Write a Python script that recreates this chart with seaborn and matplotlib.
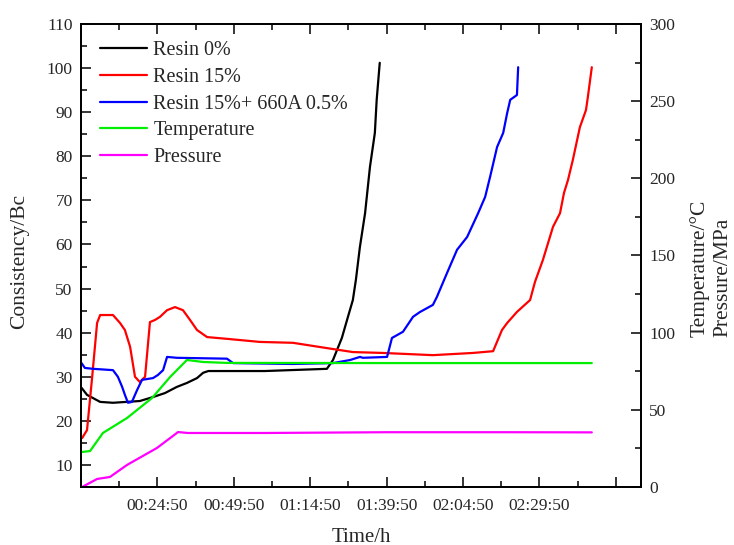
import numpy as np
import pandas as pd
import seaborn as sns
import matplotlib.pyplot as plt
from matplotlib.ticker import FixedLocator, MultipleLocator

# time in minutes, consistency in Bc
t_r0 = [0, 1.8, 6.1, 10.3, 19.1, 23.4, 27.3, 31.2, 34.5, 37.8, 39.8, 41.5, 60, 80.3,
        82.3, 85.2, 87.2, 88.8, 89.8, 91.1, 92.8, 94.4, 96.0, 96.6, 97.6]
bc_r0 = [27.5, 25.9, 24.3, 24.1, 24.5, 25.4, 26.3, 27.7, 28.6, 29.7, 30.9, 31.3, 31.3, 31.8,
         33.8, 38.8, 43.6, 47.4, 52.0, 59.4, 67.1, 77.6, 85.3, 92.8, 101.2]

t_r15 = [0.2, 1.8, 3.4, 5.1, 6.1, 10.3, 12.6, 14.2, 15.9, 17.5, 19.1, 20.8, 22.4, 24.1,
         25.7, 28.0, 30.6, 33.2, 35.5, 37.8, 41.1, 47.6, 58.4, 69.2, 80.3, 88.8, 98.7,
         115.0, 128.1, 134.7, 137.6, 139.3, 142.5, 146.8, 148.4, 151.0, 154.3, 156.6,
         157.9, 159.2, 160.8, 163.1, 165.1, 165.7, 167.0]
bc_r15 = [16.1, 17.9, 29.3, 42.2, 44.0, 44.0, 42.2, 40.6, 36.8, 30.0, 28.8, 30.0, 42.4, 42.9,
          43.6, 45.1, 45.8, 45.1, 42.9, 40.6, 39.0, 38.6, 37.9, 37.7, 36.5, 35.6, 35.4,
          34.9, 35.4, 35.8, 40.6, 42.2, 44.7, 47.4, 51.5, 56.5, 64.0, 67.1,
          71.7, 74.6, 79.2, 86.6, 90.5, 93.4, 100.2]

t_r15a = [0, 1.1, 3.8, 10.3, 11.9, 13.3, 14.2, 15.2, 16.5, 18.2, 19.8, 23.4, 25.0, 26.7,
          28.0, 31.2, 47.6, 49.6, 69.2, 82.3, 87.9, 91.1, 92.1, 100.0, 101.6, 105.2,
          108.5, 110.8, 115.0, 116.3, 119.6, 122.9, 126.2, 129.8, 132.1, 133.7, 136.0,
          138.0, 139.3, 140.3, 142.5, 142.9]
bc_r15a = [33.1, 32.0, 31.8, 31.5, 30.0, 27.7, 25.9, 24.1, 24.3, 27.0, 29.3, 29.7, 30.4, 31.5,
           34.5, 34.3, 34.1, 33.1, 32.9, 33.1, 33.8, 34.5, 34.3, 34.5, 38.8, 40.2,
           43.6, 44.7, 46.3, 48.1, 53.5, 58.8, 61.7, 67.1, 70.8, 75.3, 82.1,
           85.3, 89.8, 92.8, 93.9, 100.2]

t_temp = [0.2, 2.8, 7.0, 14.9, 23.1, 29.0, 34.5, 39.8, 47.6, 100, 167.0]
temp = [22.7, 23.3, 35.0, 44.7, 57.7, 71.3, 82.3, 81.0, 80.4, 80.3, 80.3]

t_pres = [0.2, 5.1, 9.3, 14.9, 24.7, 31.6, 34.8, 60, 100, 140, 167.0]
pres = [0, 5.2, 6.5, 14.3, 25.3, 35.6, 35.0, 35.0, 35.5, 35.5, 35.4]

tick_labels = ["", "00:24:50", "00:49:50", "01:14:50", "01:39:50", "02:04:50", "02:29:50", ""]


def to_min(s):
    h, m, sec = [int(v) for v in s.split(":")]
    return h * 60 + m + sec / 60


major = [to_min("00:24:50") + 25 * k for k in range(-1, 7)]

sns.set_style("ticks")
plt.rcParams['font.family'] = ['Liberation Serif', 'DejaVu Serif']

fig = plt.figure(figsize=(7.34, 5.45), dpi=100)
ax = fig.add_axes([81 / 734, 1 - 487 / 545, 560 / 734, 463 / 545])
ax2 = ax.twinx()

lw = 1.6
sns.lineplot(x=t_r0, y=bc_r0, ax=ax, color="black", lw=lw, label="Resin 0%", sort=False)
sns.lineplot(x=t_r15, y=bc_r15, ax=ax, color="#ff0000", lw=lw, label="Resin 15%", sort=False)
sns.lineplot(x=t_r15a, y=bc_r15a, ax=ax, color="#0000ff", lw=lw,
             label="Resin 15%+ 660A 0.5%", sort=False)
sns.lineplot(x=t_temp, y=temp, ax=ax2, color="#00ee00", lw=lw, label="Temperature", sort=False)
sns.lineplot(x=t_pres, y=pres, ax=ax2, color="#ff00ff", lw=lw, label="Pressure", sort=False)

ax.set_xlim(-10 / 60, 183.1)
ax.set_ylim(5, 110)
ax2.set_ylim(0, 300)

ax.xaxis.set_major_locator(FixedLocator(major))
ax.set_xticklabels(tick_labels)
ax.xaxis.set_minor_locator(FixedLocator([m + 12.5 for m in major]))
ax.yaxis.set_major_locator(MultipleLocator(10))
ax.yaxis.set_minor_locator(MultipleLocator(5))
ax2.yaxis.set_major_locator(MultipleLocator(50))
ax2.yaxis.set_minor_locator(MultipleLocator(25))

ax.tick_params(axis="x", which="both", direction="in", top=True, labelsize=12.5, pad=8)
ax.tick_params(axis="y", which="both", direction="in", labelsize=12.5, pad=6)
ax2.tick_params(axis="y", which="both", direction="in", labelsize=12.5, pad=6)
for a in (ax, ax2):
    a.tick_params(which="major", length=7, width=1.1, color="black")
    a.tick_params(which="minor", length=4, width=1.1, color="black")
    for sp in a.spines.values():
        sp.set_linewidth(1.3)
        sp.set_color("black")
ax.set_xlabel("")
ax.set_ylabel("")
ax2.set_ylabel("")

h1, l1 = ax.get_legend_handles_labels()
h2, l2 = ax2.get_legend_handles_labels()
if ax2.get_legend():
    ax2.get_legend().remove()
ax.legend(h1 + h2, l1 + l2, loc="upper left", bbox_to_anchor=(0.034, 0.963),
          frameon=False, fontsize=14.5, handlelength=2.35, handletextpad=0.3,
          labelspacing=0.38, borderpad=0, borderaxespad=0)

fig.text(361 / 734, 1 - 537 / 545, "Time/h", ha="center", va="center", fontsize=15)
fig.text(20 / 734, 1 - 261 / 545, "Consistency/Bc", ha="center", va="center",
         rotation=90, fontsize=15.5)
fig.text(711 / 734, 1 - 337 / 545, "Temperature/°C\nPressure/MPa", ha="center",
         va="bottom", rotation=90, multialignment="left", fontsize=15.5, linespacing=1.25)

fig.savefig("out.png", dpi=100)
